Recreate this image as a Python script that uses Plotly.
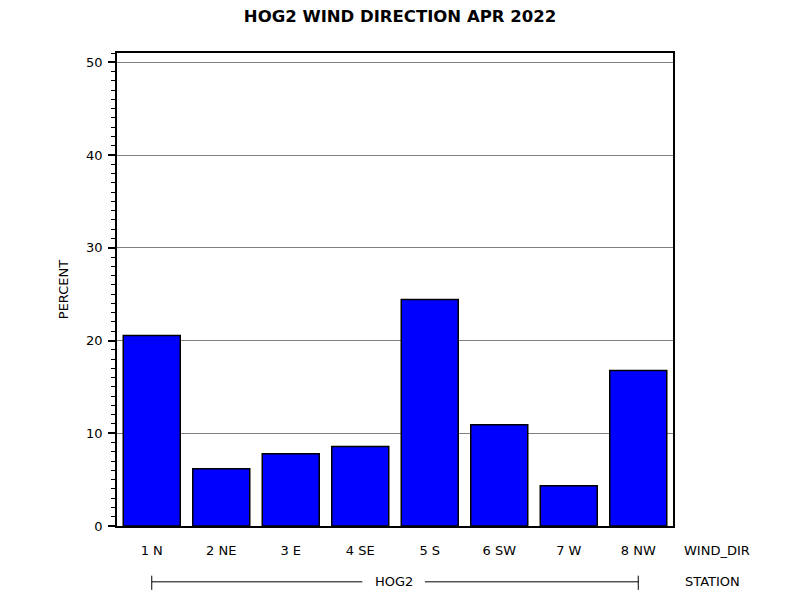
import plotly.graph_objects as go

# wind direction frequencies, HOG2, April 2022
wind_dir = ["1 N", "2 NE", "3 E", "4 SE", "5 S", "6 SW", "7 W", "8 NW"]
percent = [20.55, 6.17, 7.8, 8.58, 24.43, 10.93, 4.34, 16.76]
station = "HOG2"
y_ticks = [0, 10, 20, 30, 40, 50]

FONT = "DejaVu Sans"
FS = 13

fig = go.Figure(
    data=[
        go.Bar(
            x=wind_dir,
            y=percent,
            width=0.82,
            marker=dict(color="#0000FF", line=dict(color="black", width=1.5)),
        )
    ]
)

# station bracket under the categories
line_y = -0.118
shapes = [
    dict(type="line", xref="x", yref="paper", x0=0, x1=3.03, y0=line_y, y1=line_y,
         line=dict(color="black", width=1)),
    dict(type="line", xref="x", yref="paper", x0=3.93, x1=7, y0=line_y, y1=line_y,
         line=dict(color="black", width=1)),
    dict(type="line", xref="x", yref="paper", x0=0, x1=0, y0=line_y - 0.017, y1=line_y + 0.013,
         line=dict(color="black", width=1)),
    dict(type="line", xref="x", yref="paper", x0=7, x1=7, y0=line_y - 0.017, y1=line_y + 0.013,
         line=dict(color="black", width=1)),
]

annotations = [
    dict(text=station, xref="paper", yref="paper", x=0.499, y=line_y, yanchor="middle",
         showarrow=False, font=dict(family=FONT, size=FS, color="black")),
    dict(text="WIND_DIR", xref="paper", yref="paper", x=1.016, y=-0.051, xanchor="left",
         yanchor="middle", showarrow=False, font=dict(family=FONT, size=FS, color="black")),
    dict(text="STATION", xref="paper", yref="paper", x=1.018, y=line_y, xanchor="left",
         yanchor="middle", showarrow=False, font=dict(family=FONT, size=FS, color="black")),
]

fig.update_layout(
    width=800,
    height=600,
    title=dict(
        text="<b>HOG2 WIND DIRECTION APR 2022</b>",
        x=0.49,
        y=0.987,
        xanchor="center",
        yanchor="middle",
        font=dict(family=FONT, size=16.5, color="black"),
    ),
    margin=dict(l=109, r=135, t=45, b=82),
    plot_bgcolor="white",
    paper_bgcolor="white",
    showlegend=False,
    shapes=shapes,
    annotations=annotations,
    font=dict(family=FONT, size=FS, color="black"),
    xaxis=dict(
        range=[-0.5, 7.5],
        showgrid=False,
        showline=True,
        linecolor="black",
        linewidth=1.5,
        mirror=True,
        ticks="",
        ticklabelstandoff=12,
        tickfont=dict(family=FONT, size=FS, color="black"),
    ),
    yaxis=dict(
        title=dict(text="PERCENT", standoff=15, font=dict(family=FONT, size=FS, color="black")),
        range=[0, 51],
        tickvals=y_ticks,
        showgrid=True,
        gridcolor="#808080",
        gridwidth=1,
        zeroline=False,
        showline=True,
        linecolor="black",
        linewidth=1.5,
        mirror=True,
        ticks="outside",
        ticklen=7,
        tickcolor="black",
        tickwidth=1.5,
        ticklabelstandoff=3,
        tickfont=dict(family=FONT, size=FS, color="black"),
        minor=dict(dtick=1, ticks="outside", ticklen=4, tickcolor="black", tickwidth=1, showgrid=False),
    ),
)

fig.write_html("out.html")
